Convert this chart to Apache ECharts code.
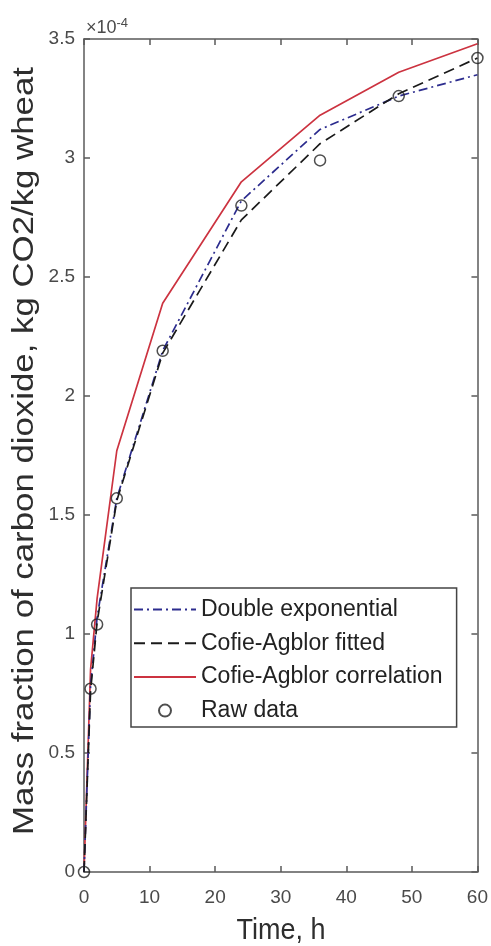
<!DOCTYPE html>
<html>
<head>
<meta charset="utf-8">
<script src="https://cdn.jsdelivr.net/npm/echarts@6/dist/echarts.min.js"></script>
<style>
  html, body { margin: 0; padding: 0; background: #fff; }
  #main { width: 491px; height: 946px; }
</style>
</head>
<body>
<div id="main"></div>
<script>
// time points (h) and mass fraction values (x 1e-4 kg CO2/kg wheat)
const hours = [0, 1, 2, 5, 12, 24, 36, 48, 60];
const rawData = [0, 0.77, 1.04, 1.57, 2.19, 2.80, 2.99, 3.26, 3.42];
const doubleExp = [0, 0.78, 1.07, 1.57, 2.19, 2.82, 3.12, 3.26, 3.35];
const fitted = [0, 0.76, 1.05, 1.56, 2.18, 2.74, 3.06, 3.27, 3.42];
const correlation = [0, 0.85, 1.15, 1.77, 2.39, 2.90, 3.18, 3.36, 3.48];
const xTicks = [0, 10, 20, 30, 40, 50, 60];
const yTicks = [0, 0.5, 1, 1.5, 2, 2.5, 3, 3.5];

const pairs = (ys) => hours.map((h, i) => [h, ys[i]]);

const el = document.getElementById('main');
const myChart = echarts.init(el);

const axisCol = '#5a5a5a';
const font = 'Liberation Sans, Arial, sans-serif';

// box axes (MATLAB style): ticks inside, lines on all four sides
const boxLine = { show: true, onZero: false, lineStyle: { color: axisCol, width: 1.5 } };
const boxTick = { show: true, inside: true, length: 6, lineStyle: { color: axisCol, width: 1.5 } };
// hide the dot ECharts puts in the middle of a line legend icon
const noDot = { opacity: 0 };

const option = {
  animation: false,
  backgroundColor: '#fff',
  grid: { left: 84, top: 39, width: 394, height: 833 },
  xAxis: [{
    type: 'value', min: xTicks[0], max: xTicks[xTicks.length - 1], interval: 10,
    axisLine: boxLine, axisTick: boxTick,
    axisLabel: { color: '#4a4a4a', fontSize: 19, fontFamily: font, margin: 16 },
    splitLine: { show: false }
  }, {
    type: 'value', position: 'top', min: 0, max: 60, interval: 10,
    axisLine: boxLine, axisTick: boxTick,
    axisLabel: { show: false }, splitLine: { show: false }
  }],
  yAxis: [{
    type: 'value', min: yTicks[0], max: yTicks[yTicks.length - 1], interval: 0.5,
    axisLine: boxLine, axisTick: boxTick,
    axisLabel: { color: '#4a4a4a', fontSize: 19, fontFamily: font, margin: 9 },
    splitLine: { show: false }
  }, {
    type: 'value', position: 'right', min: 0, max: 3.5, interval: 0.5,
    axisLine: boxLine, axisTick: boxTick,
    axisLabel: { show: false }, splitLine: { show: false }
  }],
  legend: {
    left: 131, top: 588, orient: 'vertical',
    padding: [10, 14, 5, 2],
    itemWidth: 62, itemHeight: 12, itemGap: 10.7,
    backgroundColor: '#fff', borderColor: '#444', borderWidth: 1.5, borderRadius: 0,
    textStyle: { color: '#222', fontSize: 23, fontFamily: font },
    data: [
      { name: 'Double exponential', itemStyle: noDot },
      { name: 'Cofie-Agblor fitted', itemStyle: noDot },
      { name: 'Cofie-Agblor correlation', itemStyle: noDot },
      { name: 'Raw data' }
    ]
  },
  series: [{
    name: 'Double exponential', type: 'line', data: pairs(doubleExp),
    symbol: 'none', z: 3,
    lineStyle: { color: '#2c2c8e', width: 1.7, type: [9, 4, 2, 4] },
    itemStyle: { color: '#2c2c8e' }
  }, {
    name: 'Cofie-Agblor fitted', type: 'line', data: pairs(fitted),
    symbol: 'none', z: 3,
    lineStyle: { color: '#1a1a1a', width: 1.7, type: [11, 6] },
    itemStyle: { color: '#1a1a1a' }
  }, {
    name: 'Cofie-Agblor correlation', type: 'line', data: pairs(correlation),
    symbol: 'none', z: 2,
    lineStyle: { color: '#cc3340', width: 1.7 },
    itemStyle: { color: '#cc3340' }
  }, {
    name: 'Raw data', type: 'scatter', data: pairs(rawData),
    symbol: 'circle', symbolSize: 11, z: 4,
    itemStyle: { color: 'rgba(0,0,0,0)', borderColor: '#222', borderWidth: 1.5 }
  }],
  graphic: [{
    type: 'text', x: 25, y: 451, rotation: Math.PI / 2, scaleX: 1.16,
    style: {
      text: 'Mass fraction of carbon dioxide, kg CO2/kg wheat',
      fontSize: 30, fontFamily: font, fill: '#2e2e2e',
      align: 'center', verticalAlign: 'middle'
    }
  }, {
    type: 'text', x: 281, y: 931, scaleY: 1.12,
    style: {
      text: 'Time, h', fontSize: 27, fontFamily: font, fill: '#2e2e2e',
      align: 'center', verticalAlign: 'middle'
    }
  }, {
    type: 'text', x: 86, y: 40,
    style: {
      text: '×10{s|-4}', fontSize: 18, fontFamily: font, fill: '#4a4a4a',
      align: 'left', verticalAlign: 'bottom',
      rich: { s: { fontSize: 13, fontFamily: font, fill: '#4a4a4a', verticalAlign: 'top', padding: [0, 0, 10, 0] } }
    }
  }]
};
myChart.setOption(option);
</script>
</body>
</html>
